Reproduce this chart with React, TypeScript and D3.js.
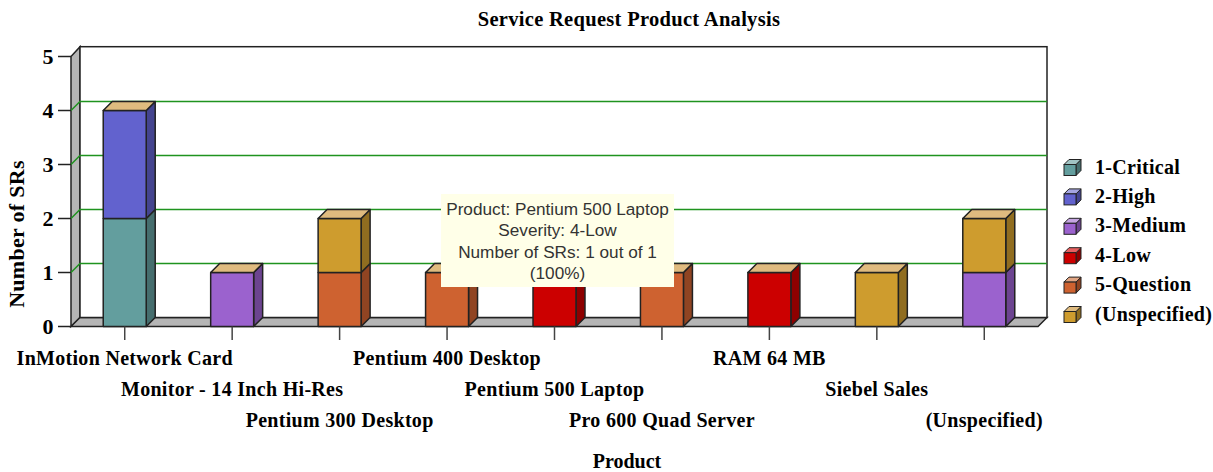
import React from "react";
import * as d3 from "d3";

const title = "Service Request Product Analysis";
const xTitle = "Product";
const yTitle = "Number of SRs";
const categories = ["InMotion Network Card", "Monitor - 14 Inch Hi-Res", "Pentium 300 Desktop", "Pentium 400 Desktop", "Pentium 500 Laptop", "Pro 600 Quad Server", "RAM 64 MB", "Siebel Sales", "(Unspecified)"];
const severities = ["1-Critical", "2-High", "3-Medium", "4-Low", "5-Question", "(Unspecified)"];
const critical = [2, 0, 0, 0, 0, 0, 0, 0, 0];
const high = [2, 0, 0, 0, 0, 0, 0, 0, 0];
const medium = [0, 1, 0, 0, 0, 0, 0, 0, 1];
const low = [0, 0, 0, 0, 1, 0, 1, 0, 0];
const question = [0, 0, 1, 1, 0, 1, 0, 0, 0];
const unspecified = [0, 0, 1, 0, 0, 0, 0, 1, 1];
const seriesValues = [critical, high, medium, low, question, unspecified];
const frontColors = ["#639e9e", "#6262ce", "#9b62ce", "#cc0000", "#ce6230", "#ce9c2e"];
const sideColors = ["#466e6e", "#44448f", "#6c4490", "#8e0000", "#904422", "#906d20"];
const capColors = ["#a1c4c4", "#a5a5e2", "#c5a5e2", "#e86060", "#e2a583", "#dfbb7f"];
const capColor = "#dfbb7f";
const tooltipLines = ["Product: Pentium 500 Laptop", "Severity: 4-Low", "Number of SRs: 1 out of 1", "(100%)"];
const yTicks = [0, 1, 2, 3, 4, 5];
const serif = "'Liberation Serif', serif";
const sans = "'Liberation Sans', sans-serif";
const ink = "#222";

export default function App() {
  const left = 71, right = 1038, dx = 9, dy = 9;
  const x = d3.scaleBand<string>().domain(categories).range([left, right]);
  const y = d3.scaleLinear().domain([0, 5]).range([326.5, 56.5]);
  const barW = x.bandwidth() * 0.4;
  const rows = categories.map((c, i) => Object.fromEntries(severities.map((s, j) => [s, seriesValues[j][i]])));
  const stacked = d3.stack<any>().keys(severities)(rows);
  const wallTop = y(5) - dy - 0.8;
  const floor = y(0);
  const labelStyle = { letterSpacing: "0.3px" };

  return (
    <svg width={1213} height={472} style={{ position: "absolute", left: 0, top: 0, display: "block" }}>
      <rect width={1213} height={472} fill="#fff" />
      <text x={629} y={25.5} textAnchor="middle" fontFamily={serif} fontWeight="bold" fontSize={20.5} style={labelStyle}>{title}</text>

      {/* walls */}
      <path d={`M${left},${floor}L${left},${y(5)}L${left + dx},${wallTop}L${left + dx},${floor - dy}Z`} fill="#b5b5b5" stroke={ink} strokeWidth={1.5} />
      <path d={`M${left},${floor}L${left + dx},${floor - dy}L${right + dx},${floor - dy}L${right},${floor}Z`} fill="#b5b5b5" stroke={ink} strokeWidth={1.5} />
      <rect x={left + dx} y={wallTop} width={right - left} height={floor - dy - wallTop} fill="#fff" stroke={ink} strokeWidth={1.5} />

      {/* grid */}
      {yTicks.filter(t => t > 0 && t < 5).map(t => (
        <path key={t} d={`M${left},${y(t)}L${left + dx},${y(t) - dy}L${right + dx},${y(t) - dy}`} fill="none" stroke="#1f931f" strokeWidth={1.5} />
      ))}

      {/* y axis */}
      {yTicks.map(t => (
        <g key={t}>
          <line x1={58} x2={left} y1={y(t)} y2={y(t)} stroke={ink} strokeWidth={1.5} />
          <text x={48} y={y(t) + 7.5} textAnchor="middle" fontFamily={serif} fontWeight="bold" fontSize={22}>{t}</text>
        </g>
      ))}
      <text transform={`translate(24,234) rotate(-90)`} textAnchor="middle" fontFamily={serif} fontWeight="bold" fontSize={22} style={labelStyle}>{yTitle}</text>

      {/* bars */}
      {stacked.map((layer, j) => layer.map((d, i) => {
        if (d[1] === d[0]) return null;
        const c = categories[i];
        const cx = (x(c) as number) + x.bandwidth() / 2;
        const x0 = cx - barW / 2, x1 = x0 + barW;
        const yb = y(d[0]), yt = y(d[1]);
        const isTop = d3.sum(seriesValues, s => s[i]) === d[1];
        return (
          <g key={`${j}-${i}`} stroke={ink} strokeWidth={1.5} strokeLinejoin="round">
            <path d={`M${x1},${yb}L${x1 + dx},${yb - dy}L${x1 + dx},${yt - dy}L${x1},${yt}Z`} fill={sideColors[j]} />
            <rect x={x0} y={yt} width={barW} height={yb - yt} fill={frontColors[j]} />
            {isTop && <path d={`M${x0},${yt}L${x0 + dx},${yt - dy}L${x1 + dx},${yt - dy}L${x1},${yt}Z`} fill={capColor} />}
          </g>
        );
      }))}

      {/* x axis */}
      {categories.map((c, i) => {
        const cx = (x(c) as number) + x.bandwidth() / 2;
        return (
          <g key={c}>
            <line x1={cx} x2={cx} y1={floor} y2={340} stroke="#444" strokeWidth={1.5} />
            <text x={cx} y={364.5 + (i % 3) * 31} textAnchor="middle" fontFamily={serif} fontWeight="bold" fontSize={20} style={labelStyle}>{c}</text>
          </g>
        );
      })}
      <text x={627} y={468} textAnchor="middle" fontFamily={serif} fontWeight="bold" fontSize={20}>{xTitle}</text>

      {/* legend */}
      {severities.map((s, j) => {
        const cy = 167.5 + j * 29.4;
        const fx = 1064, fy = cy - 3, w = 12, h = 11, d = 5;
        return (
          <g key={s}>
            <g stroke={ink} strokeWidth={1}>
              <path d={`M${fx + w},${fy + h}L${fx + w + d},${fy + h - d}L${fx + w + d},${fy - d}L${fx + w},${fy}Z`} fill={sideColors[j]} />
              <path d={`M${fx},${fy}L${fx + d},${fy - d}L${fx + w + d},${fy - d}L${fx + w},${fy}Z`} fill={capColors[j]} />
              <rect x={fx} y={fy} width={w} height={h} fill={frontColors[j]} />
            </g>
            <text x={1095} y={cy + 6} fontFamily={serif} fontWeight="bold" fontSize={20} style={labelStyle}>{s}</text>
          </g>
        );
      })}

      {/* tooltip */}
      <rect x={441} y={194} width={233} height={93} fill="#ffffe8" />
      {tooltipLines.map((l, i) => (
        <text key={l} x={557.5} y={215 + i * 21.3} textAnchor="middle" fontFamily={sans} fontSize={17.2} fill="#333">{l}</text>
      ))}
    </svg>
  );
}
